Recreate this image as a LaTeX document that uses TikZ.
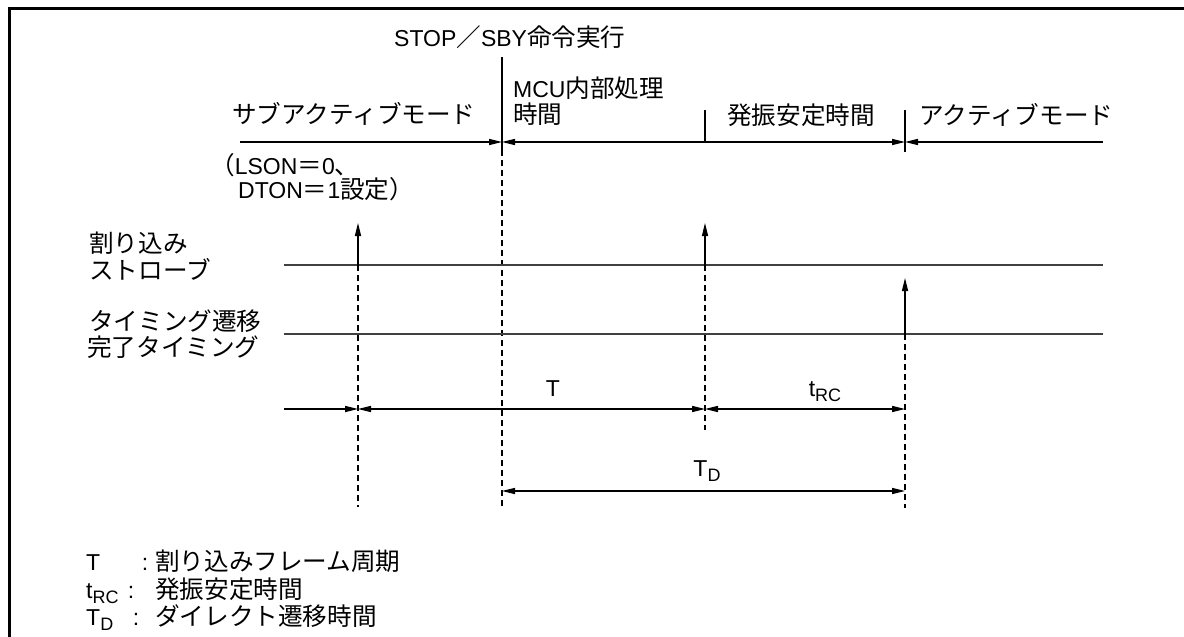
\documentclass[tikz,border=0pt]{standalone}
\usepackage{fontspec}
\setmainfont{Liberation Sans}
\newfontfamily\jp[Scale=1.07]{Noto Sans CJK JP}
\usetikzlibrary{arrows.meta}
\newcommand{\subsc}[1]{\raisebox{-5pt}{\fontsize{18}{18}\selectfont #1}}
\begin{document}
\begin{tikzpicture}[x=1pt,y=-1pt,
  >={Triangle[length=13pt,width=6pt]},
  txt/.style={inner sep=0pt, text height=18pt, text depth=3pt, font=\fontsize{23}{27}\selectfont},
  lft/.style={txt, anchor=west},
  frame/.style={line width=3pt, line cap=rect},
  dim/.style={line width=1.3pt},
  solidv/.style={line width=1.3pt},
  dashv/.style={line width=1.3pt, dash pattern=on 6pt off 4pt},
  sig/.style={line width=2pt, draw=black!75}
]
\useasboundingbox (0,0) rectangle (1184,637);
% frame (top and left edges visible)
\coordinate (f1) at (9,640);
\coordinate (f2) at (9,8);
\coordinate (f3) at (1186,8);
\draw[frame] (f1) -- (f2) -- (f3);

% top texts
\node[lft] (stop) at (394,39) {STOP{\jp ／}SBY{\jp 命令実行}};
\node[lft] (mcu1) at (513,90) {MCU{\jp 内部処理}};
\node[lft] (mcu2) at (513,116) {\jp 時間};
\node[lft] (sub) at (232,116) {\jp サブアクティブモード};
\node[lft] (osc) at (727,117) {\jp 発振安定時間};
\node[lft] (act) at (919,117) {\jp アクティブモード};
\node[lft] (lson) at (210,167) {{\jp （}LSON{\jp ＝}0{\jp 、}};
\node[lft] (dton) at (238,191) {DTON{\jp ＝}1{\jp 設定）}};

% left labels
\node[lft] (int1) at (89,245) {\jp 割り込み};
\node[lft] (int2) at (89,272) {\jp ストローブ};
\node[lft] (tim1) at (89,323) {\jp タイミング遷移};
\node[lft] (tim2) at (87,349) {\jp 完了タイミング};

% coordinates
\coordinate (mL) at (240,142);
\coordinate (m2) at (502,142);
\coordinate (m4) at (905,142);
\coordinate (mR) at (1103,142);
\coordinate (v2a) at (502,57);
\coordinate (v2b) at (502,150);
\coordinate (v2c) at (502,507);
\coordinate (v3a) at (705,110);
\coordinate (v3b) at (705,142);
\coordinate (v4a) at (905,110);
\coordinate (v4b) at (905,152);

\coordinate (sL) at (284,265);
\coordinate (sR) at (1103,265);
\coordinate (tL) at (284,334);
\coordinate (tR) at (1103,334);

\coordinate (s1) at (358,265);
\coordinate (s1t) at (358,223);
\coordinate (s1e) at (358,507);
\coordinate (s3) at (705,265);
\coordinate (s3t) at (705,223);
\coordinate (s3e) at (705,430);
\coordinate (t4) at (905,334);
\coordinate (t4t) at (905,278);
\coordinate (t4e) at (905,508);

\coordinate (T0) at (284,409);
\coordinate (T1) at (358,409);
\coordinate (T3) at (705,409);
\coordinate (T4) at (905,409);
\coordinate (D2) at (502,491);
\coordinate (D4) at (905,491);

% mode line
\draw[dim,->] (mL) -- (m2);
\draw[dim,<->] (m2) -- (m4);
\draw[dim,<-] (m4) -- (mR);
\draw[solidv] (v2a) -- (v2b);
\draw[dashv] (v2b) -- (v2c);
\draw[solidv] (v3a) -- (v3b);
\draw[solidv] (v4a) -- (v4b);

% signal lines
\draw[sig] (sL) -- (sR);
\draw[sig] (tL) -- (tR);
\draw[dim,->] (s1) -- (s1t);
\draw[dim,->] (s3) -- (s3t);
\draw[dim,->] (t4) -- (t4t);
\draw[dashv] (s1) -- (s1e);
\draw[dashv] (s3) -- (s3e);
\draw[dashv] (t4) -- (t4e);

% dimension lines
\draw[dim,->] (T0) -- (T1);
\draw[dim,<->] (T1) -- (T3);
\draw[dim,<->] (T3) -- (T4);
\draw[dim,<->] (D2) -- (D4);
\node[txt] (lT) at (553,389) {T};
\node[txt] (ltrc) at (825,389) {t\subsc{RC}};
\node[txt] (lTD) at (707,469) {T\subsc{D}};

% legend
\node[lft] (g1s) at (86,563) {T};
\node[txt] (g1c) at (145,563) {:};
\node[lft] (g1t) at (155,563) {\jp 割り込みフレーム周期};
\node[lft] (g2s) at (86,591) {t\subsc{RC}};
\node[txt] (g2c) at (131,591) {:};
\node[lft] (g2t) at (155,591) {\jp 発振安定時間};
\node[lft] (g3s) at (86,618) {T\subsc{D}};
\node[txt] (g3c) at (136,618) {:};
\node[lft] (g3t) at (155,618) {\jp ダイレクト遷移時間};
\end{tikzpicture}
\end{document}
